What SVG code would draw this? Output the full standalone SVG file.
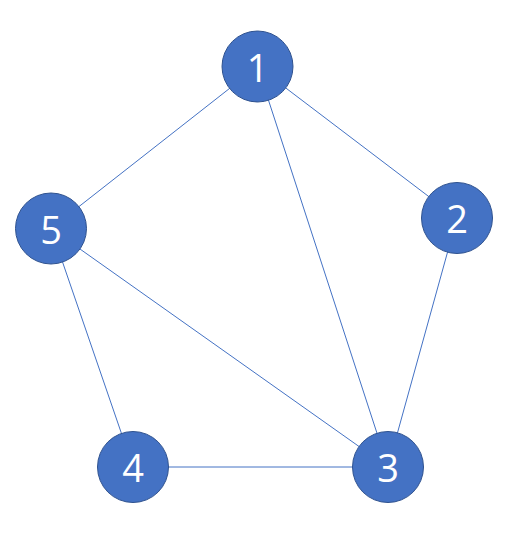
<svg xmlns="http://www.w3.org/2000/svg" width="517" height="537" viewBox="0 0 517 537">
<style>
.n{fill:#4472C4;stroke:#2F528F;stroke-width:1}
.t{fill:#fff;font-family:"Open Sans","Liberation Sans",sans-serif;font-size:38px;text-anchor:middle;dominant-baseline:central}
.e{stroke:#4472C4;stroke-width:1;fill:none}
</style>
<rect width="517" height="537" fill="#fff"/>
<g id="connectors">
<line class="e" x1="257.5" y1="66.5" x2="51" y2="228.5"/>
<line class="e" x1="257.5" y1="66.5" x2="457" y2="218"/>
<line class="e" x1="257.5" y1="66.5" x2="388" y2="467"/>
<line class="e" x1="457" y1="218" x2="388" y2="467"/>
<line class="e" x1="51" y1="228.5" x2="388" y2="467"/>
<line class="e" x1="51" y1="228.5" x2="133" y2="467"/>
<line class="e" x1="133" y1="467" x2="388" y2="467"/>
</g>
<g id="node1"><circle class="n" cx="257.5" cy="66.5" r="35.5"/><text class="t" x="257.5" y="66.5">1</text></g>
<g id="node2"><circle class="n" cx="457" cy="218" r="35.5"/><text class="t" x="457" y="218">2</text></g>
<g id="node3"><circle class="n" cx="388" cy="467" r="35.5"/><text class="t" x="388" y="467">3</text></g>
<g id="node4"><circle class="n" cx="133" cy="467" r="35.5"/><text class="t" x="133" y="467">4</text></g>
<g id="node5"><circle class="n" cx="51" cy="228.5" r="35.5"/><text class="t" x="51" y="228.5">5</text></g>
</svg>
